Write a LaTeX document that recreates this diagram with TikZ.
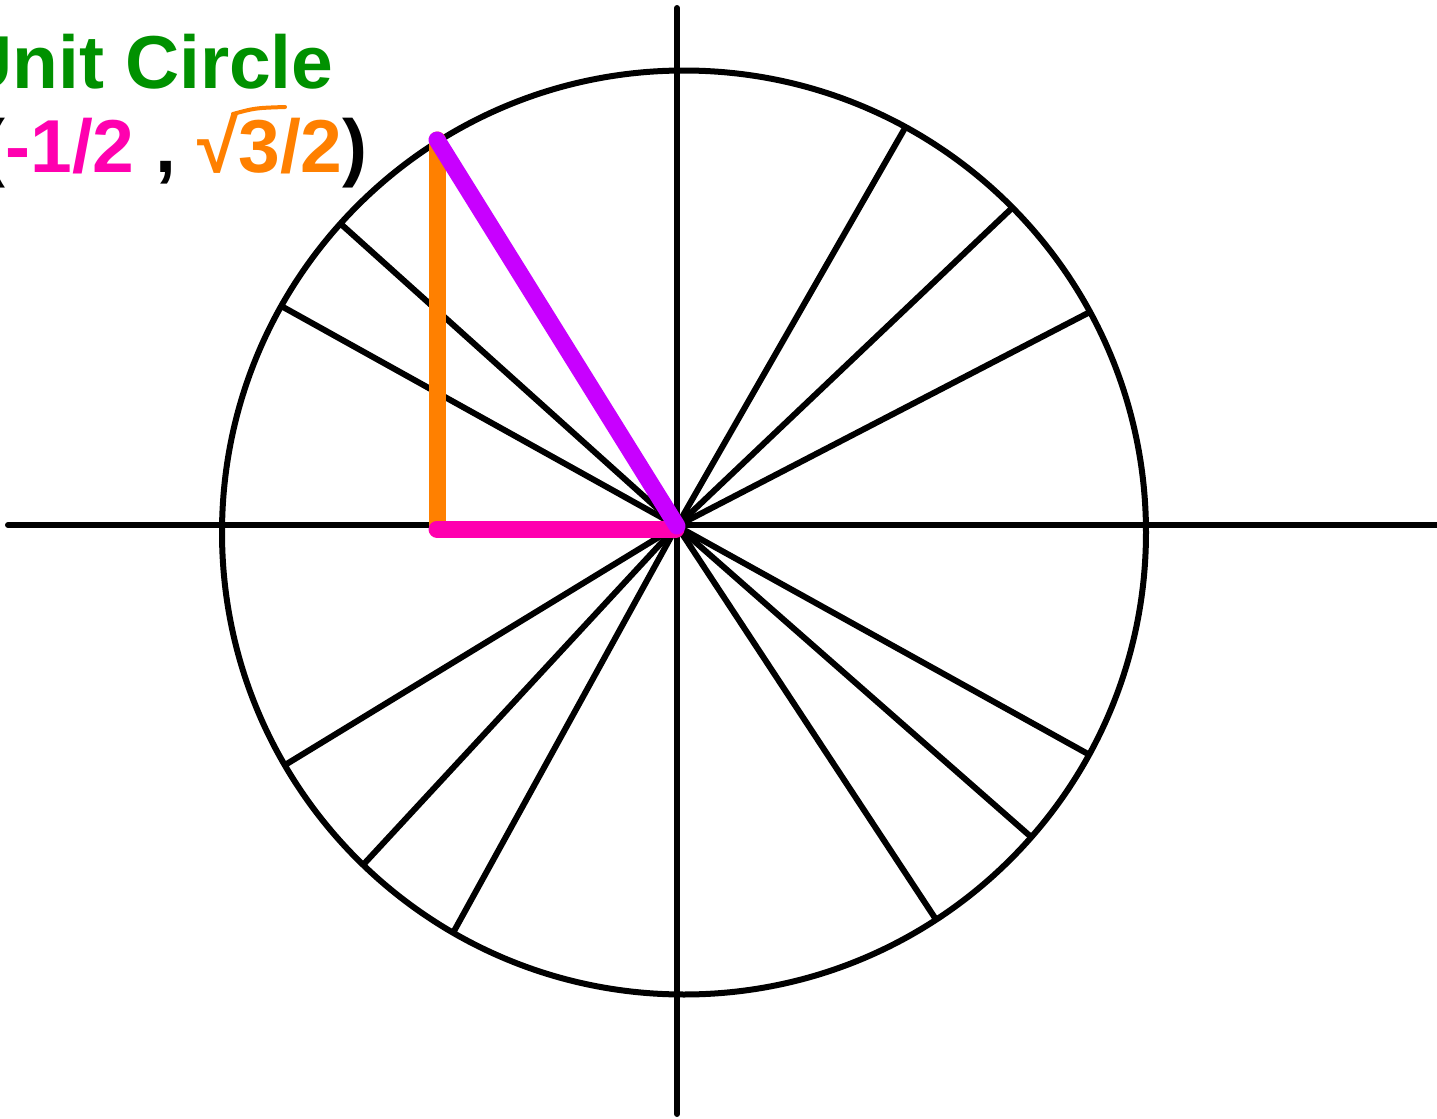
\documentclass[tikz,border=0pt]{standalone}
\usepackage{fontspec}
\setmainfont{Liberation Sans}
\definecolor{tgreen}{RGB}{0,145,0}
\definecolor{tmag}{RGB}{255,0,175}
\definecolor{tpurple}{RGB}{200,0,255}
\definecolor{torange}{RGB}{255,128,0}
\begin{document}
\begin{tikzpicture}[x=0.5pt,y=-0.5pt,
  axisline/.style={line width=3pt,line cap=round},
  spoke/.style={line width=3pt},
  ring/.style={line width=3pt},
  fat/.style={line width=8.5pt,line cap=round},
  lbl/.style={font=\fontsize{37.5}{40}\selectfont\bfseries,inner sep=0pt}]
\useasboundingbox (0,0) rectangle (1437,1119);
\fill[white] (0,0) rectangle (1437,1119);
% axes
\coordinate (xl) at (8,525);
\coordinate (xr) at (1450,525);
\coordinate (yt) at (677,8);
\coordinate (yb) at (677,1114);
\coordinate (O) at (677,526);
\draw[axisline] (xl) -- (xr);
\draw[axisline] (yt) -- (yb);
% circle
\coordinate (C) at (684,532.5);
\draw[ring] (C) circle[radius=231pt];
% spokes
\foreach \n/\px/\py in {a/905/128, b/1012/208, c/1088/313, d/342/225, e/283/307,
  f/285/765, g/363/865, h/453/933, i/935/918, j/1030/836, k/1088/754}{
  \coordinate (s\n) at (\px,\py);
  \draw[spoke] (O) -- (s\n);
}
% triangle
\coordinate (P) at (437,140);
\coordinate (Q) at (437,529);
\coordinate (R) at (676,529);
\draw[fat,torange] (P) -- (Q);
\draw[fat,tmag] (Q) -- (R);
\draw[fat,tpurple] (P) -- (O);
% labels
\node[lbl,tgreen,anchor=base east] (title) at (334,88) {Unit Circle};
\node[lbl,anchor=base east] (coord) at (368,172)
  {(\textcolor{tmag}{-1/2} , \textcolor{torange}{√3/2})};
\coordinate (b1) at (233,114);
\coordinate (b2) at (285,107);
\draw[torange,line width=2pt,line cap=round] (b1) .. controls (255,108) .. (b2);
\end{tikzpicture}
\end{document}
